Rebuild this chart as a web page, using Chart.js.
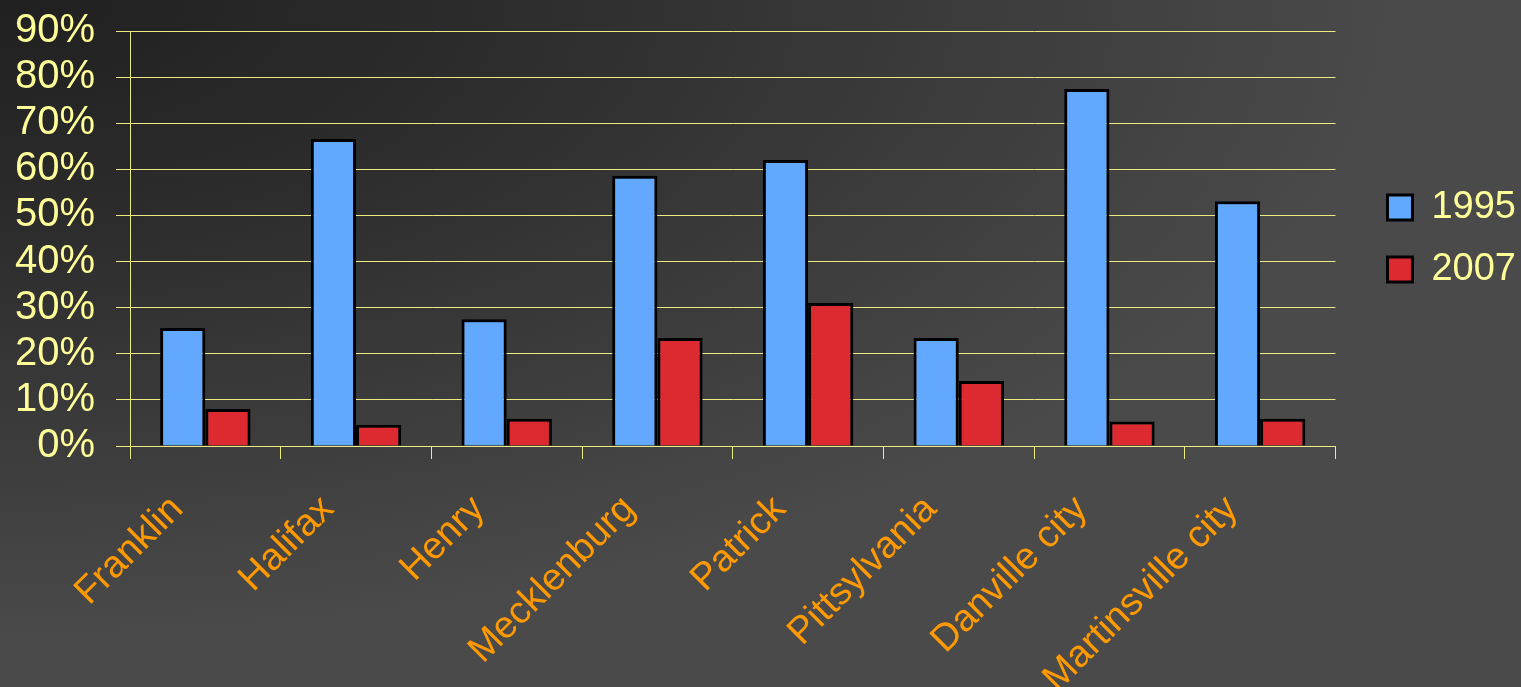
<!DOCTYPE html>
<html>
<head>
<meta charset="utf-8">
<script src="https://cdn.jsdelivr.net/npm/chart.js@4"></script>
<style>
html, body { margin: 0; padding: 0; }
body {
    width: 1521px; height: 687px; overflow: hidden;
    background: radial-gradient(ellipse 1400px 640px at 0 0, #202020 0%, #2c2c2c 35%, #4a4a4a 100%);
}
#wrap { position: relative; width: 1521px; height: 687px; }
</style>
</head>
<body>
<div id="wrap"><canvas id="chart"></canvas></div>
<script>
// data
const counties = ['Franklin', 'Halifax', 'Henry', 'Mecklenburg', 'Patrick', 'Pittsylvania', 'Danville city', 'Martinsville city'];
const values1995 = [25.6, 66.6, 27.5, 58.6, 62.0, 23.4, 77.4, 53.1];
const values2007 = [8.0, 4.6, 5.9, 23.4, 31.0, 14.1, 5.3, 5.9];
const yTicks = [0, 10, 20, 30, 40, 50, 60, 70, 80, 90];

const gridCol = 'rgb(235,235,130)';
const bigFont = { family: 'Liberation Sans, Arial, sans-serif', size: 40 };
const legendFont = { family: 'Liberation Sans, Arial, sans-serif', size: 38 };
const labelFont = { family: 'Liberation Sans, Arial, sans-serif', size: 38 };

new Chart(document.getElementById('chart'), {
    type: 'bar',
    data: {
        labels: counties,
        datasets: [
            { label: '1995', data: values1995, backgroundColor: '#62a8ff', borderColor: '#000', borderWidth: 3 },
            { label: '2007', data: values2007, backgroundColor: '#dc2a30', borderColor: '#000', borderWidth: 3 }
        ]
    },
    options: {
        responsive: true,
        maintainAspectRatio: false,
        animation: false,
        categoryPercentage: 0.6,
        barPercentage: 1,
        layout: { padding: { top: 31, left: 0, right: -5, bottom: 0 } },
        plugins: {
            tooltip: { enabled: false },
            legend: {
                position: 'right',
                fullSize: false,
                labels: {
                    color: '#ffff99',
                    font: legendFont,
                    boxWidth: 25,
                    boxHeight: 25,
                    padding: 24
                }
            }
        },
        scales: {
            x: {
                grid: { offset: true, drawOnChartArea: false, color: gridCol, tickLength: 13 },
                border: { color: gridCol },
                ticks: { color: '#ff9900', font: labelFont, maxRotation: 45, minRotation: 45, padding: 28, labelOffset: -28 },
                afterFit: s => { s.height = 241; }
            },
            y: {
                min: 0,
                max: 90,
                grid: { color: gridCol, tickLength: 14 },
                border: { color: gridCol },
                afterBuildTicks: s => { s.ticks = yTicks.map(v => ({ value: v })); },
                ticks: { color: '#ffff99', font: bigFont, padding: 21, autoSkip: false, callback: v => v + '%' },
                afterFit: s => { s.width = 130; s.paddingTop = 0; s.paddingBottom = 0; }
            },
            y2: {
                position: 'right',
                grid: { display: false },
                border: { display: false },
                ticks: { display: false },
                afterFit: s => { s.width = 28; s.paddingTop = 0; s.paddingBottom = 0; }
            }
        }
    }
});
</script>
</body>
</html>
